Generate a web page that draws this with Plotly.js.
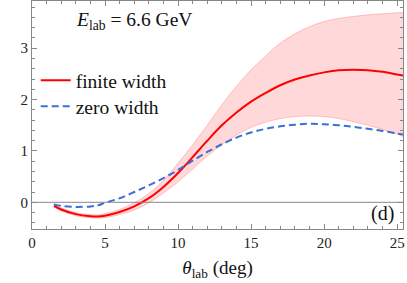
<!DOCTYPE html>
<html>
<head>
<meta charset="utf-8">
<script src="https://cdn.plot.ly/plotly-3.0.1.min.js"></script>
<style>html,body{margin:0;padding:0;background:#fff;}#chart{width:407px;height:283px;}</style>
</head>
<body>
<div id="chart"></div>
<script>
const theta = [1.5, 2, 3, 4, 4.5, 5, 6, 7, 8, 9, 10, 11, 12, 13, 14, 15, 16, 17, 18, 19, 20, 21, 22, 23, 24, 25, 25.4];
const finiteWidth = [-0.07, -0.14, -0.23, -0.27, -0.275, -0.26, -0.19, -0.08, 0.08, 0.3, 0.57, 0.88, 1.2, 1.5, 1.75, 1.96, 2.13, 2.28, 2.39, 2.47, 2.53, 2.57, 2.58, 2.57, 2.54, 2.49, 2.47];
const zeroWidth = [-0.04, -0.07, -0.09, -0.08, -0.06, -0.01, 0.08, 0.2, 0.33, 0.47, 0.63, 0.81, 0.98, 1.13, 1.26, 1.36, 1.43, 1.48, 1.51, 1.53, 1.52, 1.5, 1.47, 1.43, 1.39, 1.34, 1.32];
const bandUpper = [-0.05, -0.11, -0.2, -0.24, -0.245, -0.22, -0.14, -0.01, 0.17, 0.43, 0.76, 1.12, 1.5, 1.9, 2.26, 2.58, 2.85, 3.1, 3.28, 3.42, 3.52, 3.58, 3.62, 3.65, 3.67, 3.69, 3.69];
const bandLower = [-0.09, -0.17, -0.26, -0.3, -0.305, -0.3, -0.24, -0.15, -0.01, 0.18, 0.4, 0.65, 0.9, 1.12, 1.31, 1.46, 1.56, 1.63, 1.67, 1.68, 1.67, 1.63, 1.57, 1.5, 1.42, 1.33, 1.28];
const xTicks = [0, 5, 10, 15, 20, 25];
const yTicks = [0, 1, 2, 3];

const serif = 'Liberation Serif, Times New Roman, serif';
const legendFont = {family: serif, size: 19.5, color: '#111'};

const traces = [
  {x: theta, y: bandLower, mode: 'lines', line: {color: 'rgba(255,140,140,0.5)', width: 1, shape: 'spline'}, showlegend: false, hoverinfo: 'skip'},
  {x: theta, y: bandUpper, mode: 'lines', fill: 'tonexty', fillcolor: 'rgba(255,80,80,0.22)', line: {color: 'rgba(255,140,140,0.5)', width: 1, shape: 'spline'}, showlegend: false, hoverinfo: 'skip'},
  {x: theta, y: finiteWidth, mode: 'lines', name: 'finite width', legend: 'legend', line: {color: '#ff0000', width: 2, shape: 'spline'}},
  {x: theta, y: zeroWidth, mode: 'lines', name: 'zero width', legend: 'legend2', line: {color: '#3a6fd6', width: 2, dash: '7px,4px', shape: 'spline'}}
];

const axisCommon = {
  showgrid: false, zeroline: false, showline: true, linecolor: '#888', linewidth: 1, mirror: 'allticks',
  ticks: 'inside', ticklen: 5, tickcolor: '#888', tickwidth: 1,
  tickfont: {family: serif, size: 15, color: '#222'}
};

const layout = {
  width: 407, height: 283,
  margin: {l: 32, r: 4, t: 1, b: 54},
  paper_bgcolor: '#fff', plot_bgcolor: '#fff',
  showlegend: true,
  legend: {x: 0.01, y: 0.737, xanchor: 'left', yanchor: 'top', bgcolor: 'rgba(0,0,0,0)', font: legendFont, itemwidth: 30},
  legend2: {x: 0.01, y: 0.623, xanchor: 'left', yanchor: 'top', bgcolor: 'rgba(0,0,0,0)', font: legendFont, itemwidth: 30},
  xaxis: Object.assign({}, axisCommon, {
    range: [0, 25.4], tickvals: xTicks, ticktext: xTicks.map(String),
    minor: {dtick: 1, ticks: 'inside', ticklen: 3, tickcolor: '#888'},
    title: {text: '<i>θ</i><sub>lab</sub> (deg)', font: {family: serif, size: 19, color: '#111'}, standoff: 10}
  }),
  yaxis: Object.assign({}, axisCommon, {
    range: [-0.52, 3.92], tickvals: yTicks, ticktext: yTicks.map(String),
    minor: {dtick: 0.2, tick0: 0, ticks: 'inside', ticklen: 3, tickcolor: '#888'}
  }),
  shapes: [
    {type: 'line', xref: 'paper', x0: 0, x1: 1, yref: 'y', y0: 0, y1: 0, line: {color: '#888', width: 1}}
  ],
  annotations: [
    {xref: 'x', yref: 'y', x: 7.0, y: 3.53, xanchor: 'center', yanchor: 'middle', showarrow: false,
     text: '<i>E</i><sub>lab</sub> = 6.6 GeV', font: {family: serif, size: 19.5, color: '#111'}},
    {xref: 'x', yref: 'y', x: 24.0, y: -0.22, xanchor: 'center', yanchor: 'middle', showarrow: false,
     text: '(d)', font: {family: serif, size: 20, color: '#111'}}
  ]
};

Plotly.newPlot('chart', traces, layout, {displayModeBar: false, staticPlot: true});
</script>
</body>
</html>
